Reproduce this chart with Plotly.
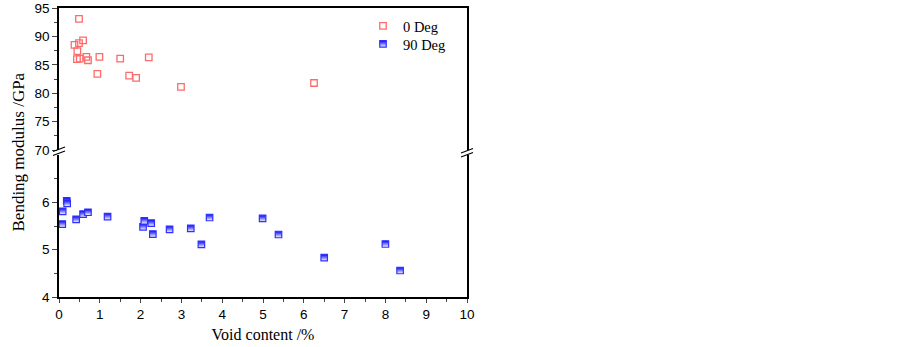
import plotly.graph_objects as go

# 0 Deg data (upper panel)
void_0 = [0.49, 0.38, 0.59, 0.49, 0.45, 0.44, 0.51, 0.67, 0.71, 0.99, 0.94, 1.50, 1.72, 1.89, 2.20, 2.99, 6.25]
mod_0 = [93.1, 88.5, 89.3, 88.8, 87.4, 86.0, 86.1, 86.4, 85.8, 86.4, 83.4, 86.1, 83.1, 82.7, 86.3, 81.1, 81.8]

# 90 Deg data (lower panel)
void_90 = [0.08, 0.09, 0.19, 0.20, 0.42, 0.59, 0.71, 1.19, 2.06, 2.09, 2.26, 2.30, 2.71, 3.23, 3.49, 3.69,
           4.99, 5.38, 6.50, 8.00, 8.36]
mod_90 = [5.54, 5.81, 6.03, 5.98, 5.64, 5.75, 5.79, 5.70, 5.48, 5.61, 5.56, 5.33, 5.43, 5.45, 5.11, 5.68,
          5.66, 5.32, 4.83, 5.12, 4.56]

x_ticks = list(range(0, 11))
upper_ticks = [70, 75, 80, 85, 90, 95]
lower_ticks = [4, 5, 6]

L, R, T, B = 59, 436, 8, 50
W, H = 903, 347
PW, PH = W - L - R, H - T - B

def px2paper(px, py):
    return (px - L) / PW, (H - B - py) / PH

fig = go.Figure()
fig.add_trace(go.Scatter(
    x=void_0, y=mod_0, mode="markers", name="0 Deg", xaxis="x2", yaxis="y2", legend="legend",
    marker=dict(symbol="square-open", size=6.5, color="#FF6B6B", line=dict(width=1.3, color="#FF6B6B")),
))
fig.add_trace(go.Scatter(
    x=void_90, y=mod_90, mode="markers", name="90 Deg", xaxis="x", yaxis="y", legend="legend2",
    marker=dict(symbol="square", size=6.5, color="#0000FF",
                gradient=dict(type="vertical", color="white"),
                line=dict(width=1.2, color="#3030FF")),
))

axis_common = dict(showgrid=False, zeroline=False, showline=True, linecolor="black", linewidth=1.5,
                   automargin=False,
                   tickfont=dict(family="Liberation Sans, Arial, sans-serif", size=13.5, color="black"))

lower_top = (H - B - 155) / PH
upper_bot = (H - B - 150) / PH

legend_font = dict(family="Liberation Serif, Times New Roman, serif", size=14.5, color="black")
legend_common = dict(xanchor="left", yanchor="top", bgcolor="rgba(0,0,0,0)", borderwidth=0, font=legend_font)

fig.update_layout(
    width=W, height=H,
    margin=dict(l=L, r=R, t=T, b=B, autoexpand=False),
    paper_bgcolor="white", plot_bgcolor="white",
    showlegend=True,
    legend=dict(x=(363 - L) / PW, y=1 - (10 - T) / PH, **legend_common),
    legend2=dict(x=(363 - L) / PW, y=1 - (28 - T) / PH, **legend_common),
    xaxis=dict(**axis_common, domain=[0, 1], range=[0, 10], anchor="y",
               tickmode="array", tickvals=x_ticks, ticks="outside", ticklen=4, tickwidth=1,
               minor=dict(tickvals=[v + 0.5 for v in x_ticks[:-1]], ticks="outside", ticklen=3, tickwidth=1),
               title=dict(text="Void content /%", standoff=8,
                          font=dict(family="Liberation Serif, Times New Roman, serif", size=16, color="black"))),
    xaxis2=dict(showgrid=False, zeroline=False, showline=True, linecolor="black", linewidth=1.5,
                automargin=False,
                matches="x", anchor="y2", side="top", showticklabels=False, ticks=""),
    yaxis=dict(**axis_common, domain=[0, lower_top], range=[4, 7], anchor="x", mirror=True,
               tickmode="array", tickvals=lower_ticks, ticks="outside", ticklen=5, tickwidth=1,
               minor=dict(tickvals=[4.5, 5.5, 6.5], ticks="outside", ticklen=3, tickwidth=1)),
    yaxis2=dict(**axis_common, domain=[upper_bot, 1], range=[70, 95], anchor="x2", mirror=True,
                tickmode="array", tickvals=upper_ticks, ticks="outside", ticklen=5, tickwidth=1,
                minor=dict(tickvals=[72.5, 77.5, 82.5, 87.5, 92.5], ticks="outside", ticklen=3, tickwidth=1)),
    annotations=[dict(text="Bending modulus /GPa", xref="paper", yref="paper",
                      x=(18 - L) / PW, y=0.5, xanchor="center", yanchor="middle", textangle=-90,
                      showarrow=False,
                      font=dict(family="Liberation Serif, Times New Roman, serif", size=17, color="black"))],
)

# axis break marks
breaks = [((53, 151.5), (65, 147)), ((53, 155.5), (65, 151)),
          ((461, 153), (473, 148.5)), ((461, 157), (473, 152.5))]
for (p0, p1) in breaks:
    x0, y0 = px2paper(*p0)
    x1, y1 = px2paper(*p1)
    fig.add_shape(type="line", xref="paper", yref="paper", x0=x0, y0=y0, x1=x1, y1=y1,
                  line=dict(color="black", width=1.2))

fig.write_html("out.html", config={"displayModeBar": False},
               post_script="document.body.style.margin='0';document.body.style.padding='0';")
